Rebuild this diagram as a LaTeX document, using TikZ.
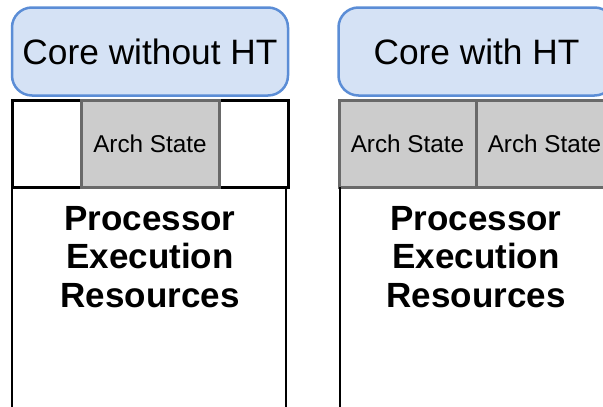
\documentclass[tikz,border=0pt]{standalone}
\usepackage{fontspec}
\setmainfont{Liberation Sans}
\definecolor{coreblue}{RGB}{91,141,214}
\definecolor{corefill}{RGB}{213,226,245}
\definecolor{archgray}{RGB}{204,204,204}
\definecolor{archline}{RGB}{105,105,105}

\begin{document}
\begin{tikzpicture}[x=1pt,y=-1pt,
    corebox/.style={draw=coreblue,fill=corefill,line width=2.5pt,rounded corners=20pt,
      minimum width=276pt,minimum height=88pt,inner sep=0pt,
      font=\fontsize{35.3}{40}\selectfont},
    stripbox/.style={draw=black,line width=3pt,minimum width=276pt,minimum height=87pt,inner sep=0pt},
    archbox/.style={draw=archline,fill=archgray,line width=3pt,minimum height=87pt,inner sep=0pt,
      font=\fontsize{24.3}{28}\selectfont},
    restext/.style={anchor=north,inner sep=0pt,align=center,
      font=\fontsize{35}{38.5}\selectfont\bfseries},
    bodyline/.style={line width=1.6pt}]
  \useasboundingbox (0,0) rectangle (603,407);

  % left core, no hyper-threading
  \node[corebox] (coreL) at (150,51.5) {Core without HT};
  \node[stripbox] (stripL) at (150,143.5) {};
  \node[archbox,minimum width=138pt] (archL) at (150,143.5) {Arch State};
  \coordinate (bodyLa) at (12,187);
  \coordinate (bodyLb) at (286,187);
  \draw[bodyline] (bodyLa) -- ++(0,230);
  \draw[bodyline] (bodyLb) -- ++(0,230);
  \node[restext] (resL) at (150,206) {Processor\\Execution\\Resources};

  % right core, two arch states share the resources
  \node[corebox] (coreR) at (476.5,51.5) {Core with HT};
  \node[archbox,minimum width=137pt] (archRa) at (407.5,143.5) {Arch State};
  \node[archbox,minimum width=137pt] (archRb) at (544.5,143.5) {Arch State};
  \coordinate (bodyRa) at (340,187);
  \draw[bodyline] (bodyRa) -- ++(0,230);
  \node[restext] (resR) at (476,206) {Processor\\Execution\\Resources};
\end{tikzpicture}
\end{document}
